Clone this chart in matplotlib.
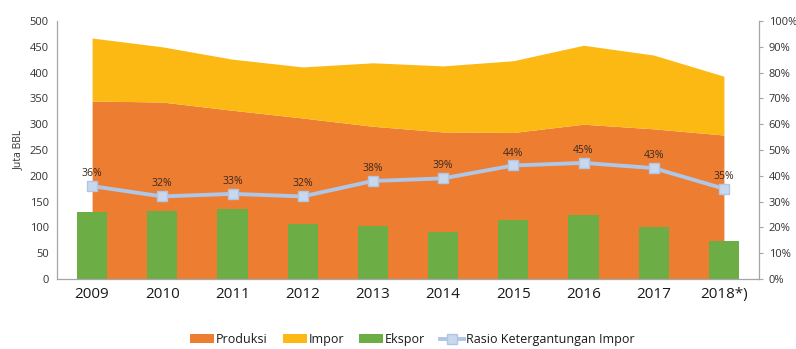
import matplotlib
matplotlib.use("Agg")
import matplotlib.pyplot as plt
import numpy as np

years = ["2009", "2010", "2011", "2012", "2013", "2014", "2015", "2016", "2017", "2018*)"]
produksi = [345, 343, 327, 312, 296, 285, 284, 300, 291, 279]
impor = [122, 107, 99, 99, 123, 128, 139, 153, 143, 114]
ekspor = [130, 132, 135, 107, 103, 91, 114, 125, 101, 74]
rasio = [36, 32, 33, 32, 38, 39, 44, 45, 43, 35]

plt.rcParams['font.family'] = ['Open Sans', 'DejaVu Sans']

c_prod = "#ED7D31"
c_imp = "#FDB913"
c_eks = "#6CAE45"
c_line = "#AFC6E6"
c_axis = "#A6A6A6"
c_text = "#333333"

fig = plt.figure(figsize=(7.96, 3.49), dpi=100)
ax = fig.add_axes([57/796, 1-279/349, 702/796, 258/349])
x = np.arange(len(years))

ax.fill_between(x, 0, produksi, color=c_prod, lw=0, zorder=1, label="Produksi")
top = np.array(produksi) + np.array(impor)
ax.fill_between(x, produksi, top, color=c_imp, lw=0, zorder=1, label="Impor")
ax.bar(x, ekspor, width=0.43, color=c_eks, zorder=2, label="Ekspor")

ax.set_xlim(-0.5, len(years) - 0.5)
ax.set_ylim(0, 500)
ax.set_yticks(range(0, 501, 50))
ax.set_xticks(x)
ax.set_xticklabels(years, fontsize=11, color="#1a1a1a")
ax.tick_params(axis='x', length=0, pad=6)
ax.tick_params(axis='y', length=0, labelsize=8, labelcolor=c_text, pad=6)
ax.set_ylabel("Juta BBL", fontsize=7.5, color=c_text, labelpad=4)
for s in ["top", "right"]:
    ax.spines[s].set_visible(False)
for s in ["left", "bottom"]:
    ax.spines[s].set_color(c_axis)
    ax.spines[s].set_linewidth(0.9)

ax2 = ax.twinx()
ax2.set_ylim(0, 100)
ax2.set_yticks(range(0, 101, 10))
ax2.set_yticklabels([f"{v}%" for v in range(0, 101, 10)])
ax2.tick_params(axis='y', length=3, color=c_axis, labelsize=8, labelcolor=c_text, pad=4)
for s in ["top", "left", "bottom"]:
    ax2.spines[s].set_visible(False)
ax2.spines["right"].set_color(c_axis)
ax2.spines["right"].set_linewidth(0.9)

ax2.plot(x, rasio, color=c_line, lw=2.8, marker="s", ms=7.5, mfc="#C9D8EC",
         mec=c_line, mew=1, zorder=5, label="Rasio Ketergantungan Impor")
for xi, r in zip(x, rasio):
    ax2.annotate(f"{r}%", (xi, r), xytext=(0, 5), textcoords="offset points",
                 ha="center", va="bottom", fontsize=7.5, color="#3a2a20")

h1, l1 = ax.get_legend_handles_labels()
h2, l2 = ax2.get_legend_handles_labels()
fig.legend(h1 + h2, l1 + l2, loc="center", bbox_to_anchor=(0.518, 0.027), ncol=4,
           frameon=False, fontsize=9, handlelength=1.9, handletextpad=0.15,
           columnspacing=1.2, labelcolor="#1a1a1a")

fig.savefig("out.png", dpi=100)
